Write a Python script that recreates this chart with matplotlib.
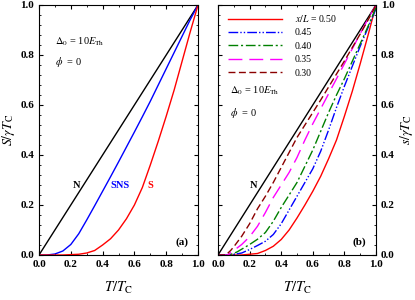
import numpy as np
import matplotlib
matplotlib.use('Agg')
import matplotlib.pyplot as plt
from matplotlib.ticker import MultipleLocator, FormatStrFormatter

plt.rcParams['font.family'] = ['Liberation Serif', 'DejaVu Serif']
plt.rcParams['mathtext.fontset'] = 'stix'

# panel (a): N, SNS, S
n_x = [0.0, 1.0]
n_y = [0.0, 1.0]
sns_x = [0.0, 0.05, 0.10, 0.15, 0.20, 0.25, 0.30, 0.35, 0.40, 0.45, 0.50, 0.55,
         0.60, 0.65, 0.70, 0.75, 0.80, 0.85, 0.90, 0.95, 1.0]
sns_y = [0.0, 0.0, 0.004, 0.016, 0.042, 0.085, 0.14, 0.197, 0.255, 0.313, 0.372, 0.432,
         0.492, 0.553, 0.615, 0.68, 0.745, 0.81, 0.875, 0.94, 1.0]
s_x = [0.0, 0.15, 0.25, 0.30, 0.35, 0.40, 0.45, 0.50, 0.55, 0.60, 0.65, 0.70,
       0.75, 0.80, 0.85, 0.90, 0.95, 1.0]
s_y = [0.0, 0.0, 0.003, 0.008, 0.018, 0.04, 0.065, 0.10, 0.145, 0.20, 0.27, 0.36,
       0.455, 0.555, 0.66, 0.775, 0.89, 1.0]

# panel (b): local entropy at x/L
pos_labels = ['0.50', '0.45', '0.40', '0.35', '0.30']
b50_x = [0.0, 0.15, 0.25, 0.30, 0.35, 0.40, 0.45, 0.50, 0.55, 0.60, 0.65, 0.70,
         0.75, 0.80, 0.85, 0.90, 0.95, 1.0]
b50_y = [0.0, 0.0, 0.006, 0.018, 0.035, 0.062, 0.10, 0.148, 0.20, 0.255, 0.315, 0.385,
         0.46, 0.555, 0.655, 0.765, 0.88, 1.0]
b45_x = [0.0, 0.08, 0.15, 0.20, 0.25, 0.30, 0.35, 0.40, 0.45, 0.50, 0.55, 0.60,
         0.65, 0.70, 0.75, 0.80, 0.85, 0.90, 0.95, 1.0]
b45_y = [0.0, 0.0, 0.008, 0.022, 0.038, 0.055, 0.082, 0.125, 0.18, 0.235, 0.29, 0.345,
         0.415, 0.50, 0.59, 0.675, 0.755, 0.835, 0.91, 0.985]
b40_x = [0.0, 0.07, 0.12, 0.16, 0.20, 0.25, 0.30, 0.35, 0.40, 0.45, 0.50, 0.55,
         0.60, 0.65, 0.70, 0.75, 0.80, 0.85, 0.90, 0.95, 1.0]
b40_y = [0.0, 0.0, 0.012, 0.027, 0.042, 0.063, 0.09, 0.135, 0.19, 0.24, 0.29, 0.355,
         0.42, 0.495, 0.57, 0.64, 0.705, 0.775, 0.845, 0.915, 0.99]
b35_x = [0.0, 0.06, 0.10, 0.15, 0.20, 0.25, 0.30, 0.35, 0.40, 0.45, 0.50, 0.55,
         0.60, 0.65, 0.70, 0.75, 0.80, 0.85, 0.90, 0.95, 1.0]
b35_y = [0.0, 0.0, 0.018, 0.042, 0.073, 0.115, 0.17, 0.23, 0.28, 0.33, 0.39, 0.46,
         0.525, 0.585, 0.645, 0.705, 0.765, 0.825, 0.885, 0.945, 1.0]
b30_x = [0.0, 0.05, 0.08, 0.10, 0.15, 0.20, 0.25, 0.30, 0.35, 0.40, 0.45, 0.50,
         0.55, 0.60, 0.65, 0.70, 0.75, 0.80, 0.85, 0.90, 0.95, 1.0]
b30_y = [0.0, 0.0, 0.018, 0.033, 0.075, 0.125, 0.185, 0.235, 0.29, 0.35, 0.41, 0.47,
         0.52, 0.57, 0.62, 0.672, 0.724, 0.776, 0.83, 0.884, 0.94, 1.0]

fig = plt.figure(figsize=(4.15, 3.0), dpi=100)
ax1 = fig.add_axes([39/415, 45/300, 159/415, 250/300])
ax2 = fig.add_axes([218/415, 45/300, 158/415, 250/300])

lw = 1.0
ax1.plot(n_x, n_y, color='black', lw=lw)
ax1.plot(sns_x, sns_y, color='#0000ff', lw=lw)
ax1.plot(s_x, s_y, color='#ff0000', lw=lw)

ax2.plot(n_x, n_y, color='black', lw=lw)
ax2.plot(b50_x, b50_y, color='#ff0000', lw=lw, label=r'$x/L$ = ' + pos_labels[0])
ax2.plot(b45_x, b45_y, color='#0000ff', lw=lw, ls=(0, (7, 1.5, 1, 1.5, 1, 1.5)), label=pos_labels[1])
ax2.plot(b40_x, b40_y, color='#008000', lw=lw, ls=(0, (7, 2, 1.5, 2)), label=pos_labels[2])
ax2.plot(b35_x, b35_y, color='#ff00ff', lw=lw, ls=(0, (10, 5)), label=pos_labels[3])
ax2.plot(b30_x, b30_y, color='#8b0000', lw=lw, ls=(0, (5, 2.5)), label=pos_labels[4])

for ax in (ax1, ax2):
    ax.set_xlim(0, 1)
    ax.set_ylim(0, 1)
    ax.xaxis.set_major_locator(MultipleLocator(0.2))
    ax.xaxis.set_minor_locator(MultipleLocator(0.1))
    ax.yaxis.set_major_locator(MultipleLocator(0.2))
    ax.yaxis.set_minor_locator(MultipleLocator(0.04))
    ax.tick_params(which='both', direction='in', top=True, right=True, left=True, labelsize=8)
    ax.tick_params(which='major', length=3, width=0.8)
    ax.tick_params(which='minor', length=1.6, width=0.6)
    ax.xaxis.set_major_formatter(FormatStrFormatter('%.1f'))
    ax.yaxis.set_major_formatter(FormatStrFormatter('%.1f'))
    for lab in ax.get_xticklabels() + ax.get_yticklabels():
        lab.set_fontweight('bold')
    for sp in ax.spines.values():
        sp.set_linewidth(0.8)
    ax.set_xlabel(r'$T/T_{\rm C}$', fontsize=10.5, labelpad=8)

ax2.tick_params(labelleft=False, labelright=True)
for lab in ax2.get_yticklabels():
    lab.set_fontweight('bold')
ax2.yaxis.set_label_position('right')
ax1.set_ylabel(r'$S/\gamma T_{\rm C}$', fontsize=10, labelpad=2)
ax2.set_ylabel(r'$s/\gamma T_{\rm C}$', fontsize=10, labelpad=2)

txt = dict(fontsize=7.5)
ax1.text(0.10, 0.84, r'$\Delta_0$ = 10$E_{\rm Th}$', **txt)
ax1.text(0.10, 0.76, r'$\phi$  = 0', **txt)
ax1.text(0.215, 0.27, 'N', color='black', fontweight='bold', **txt)
ax1.text(0.45, 0.27, 'SNS', color='#0000ff', fontweight='bold', **txt)
ax1.text(0.68, 0.27, 'S', color='#ff0000', fontweight='bold', **txt)
ax1.text(0.86, 0.04, '(a)', fontsize=8, fontweight='bold')

ax2.text(0.076, 0.645, r'$\Delta_0$ = 10$E_{\rm Th}$', **txt)
ax2.text(0.076, 0.555, r'$\phi$  = 0', **txt)
ax2.text(0.20, 0.27, 'N', color='black', fontweight='bold', **txt)
ax2.text(0.85, 0.04, '(b)', fontsize=8, fontweight='bold')
ax2.legend(loc='upper left', bbox_to_anchor=(0.02, 0.995), frameon=False, fontsize=7,
           handlelength=5.6, handletextpad=1.3, labelspacing=0.45, borderaxespad=0.3)

fig.savefig('out.png', dpi=100)
